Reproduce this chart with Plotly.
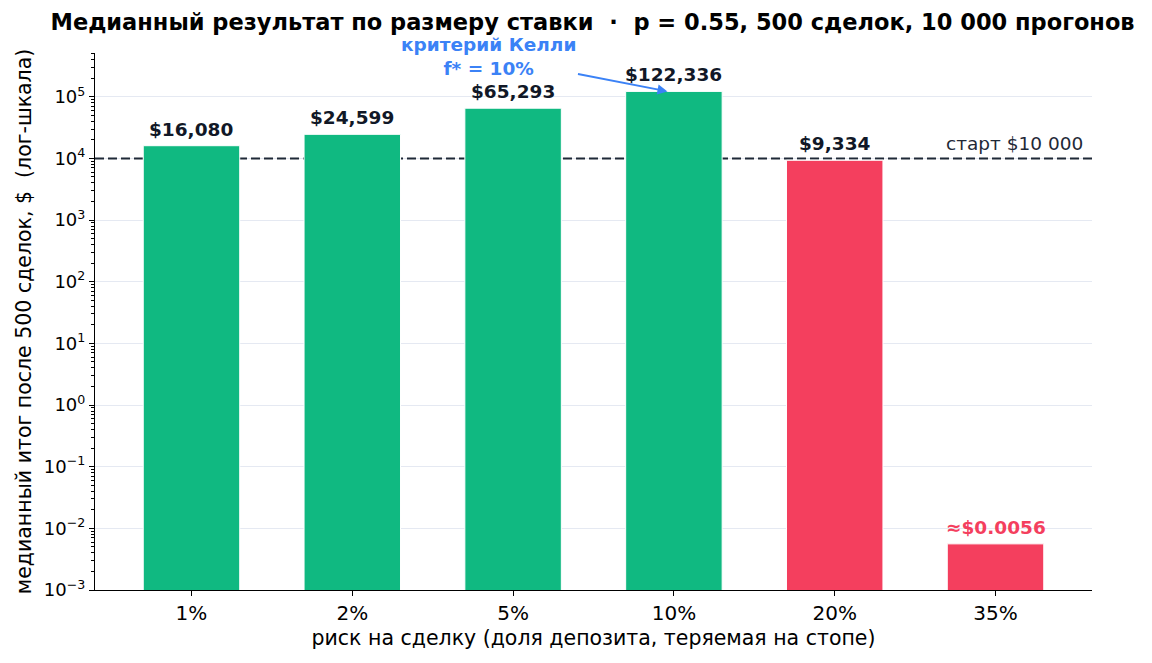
import math
import plotly.graph_objects as go

risk = ['1%', '2%', '5%', '10%', '20%', '35%']
median_final = [16080, 24599, 65293, 122336, 9334, 0.0056]
value_labels = ['$16,080', '$24,599', '$65,293', '$122,336', '$9,334', '≈$0.0056']
start_capital = 10000
kelly_idx = 3

decades = list(range(-3, 6))
decade_labels = ['10<sup>' + str(d).replace('-', '−') + '</sup>' for d in decades]

GREEN = '#10b981'
RED = '#f43f5e'
INK = '#111827'
BLUE = '#3b82f6'

colors = [GREEN if v >= start_capital else RED for v in median_final]

fig = go.Figure(go.Bar(
    x=risk,
    y=median_final,
    marker=dict(color=colors, line=dict(color='white', width=1)),
    width=0.6,
    hoverinfo='x+y',
))

# dashed start line: above the gridlines, behind the bars
fig.add_shape(type='line', xref='x', x0=-0.6, x1=5.6, yref='y', y0=start_capital, y1=start_capital,
              line=dict(color='#1f2937', width=2, dash='9px,4px'), layer='between')

annotations = []
for i, (v, lab) in enumerate(zip(median_final, value_labels)):
    annotations.append(dict(
        x=risk[i], y=math.log10(v), xref='x', yref='y',
        text=lab, showarrow=False, yanchor='bottom', yshift=4,
        font=dict(size=18.5, color=RED if v < 1 else INK, weight='bold'),
    ))

annotations.append(dict(
    x=0.993, xref='paper', y=math.log10(start_capital), yref='y',
    text='старт $10 000', showarrow=False, xanchor='right', yanchor='bottom', yshift=2,
    font=dict(size=18.5, color='#1f2937'),
))

annotations.append(dict(
    x=kelly_idx - 0.04, y=math.log10(median_final[kelly_idx]), xref='x', yref='y',
    ax=1.85, ay=5.65, axref='x', ayref='y',
    text='критерий Келли<br>f* = 10%', showarrow=True,
    arrowhead=2, arrowsize=1, arrowwidth=2, arrowcolor=BLUE, standoff=0,
    font=dict(size=18.5, color=BLUE, weight='bold'),
))

fig.update_layout(
    width=1144,
    height=655,
    margin=dict(l=87, r=60, t=45, b=73),
    plot_bgcolor='white',
    paper_bgcolor='white',
    font=dict(family='DejaVu Sans', size=17, color='black'),
    title=dict(
        text='Медианный результат по размеру ставки  ·  p = 0.55, 500 сделок, 10 000 прогонов',
        x=0.511, xanchor='center', y=0.978, yanchor='middle',
        font=dict(size=22.5, color='black', weight='bold'),
    ),
    showlegend=False,
    annotations=annotations,
)

fig.update_xaxes(
    range=[-0.6, 5.6],
    showline=True, linecolor='black', linewidth=1.2,
    ticks='outside', ticklen=5, tickcolor='black',
    tickfont=dict(size=20),
    title=dict(text='риск на сделку (доля депозита, теряемая на стопе)', font=dict(size=20.5), standoff=6),
    showgrid=False,
)

fig.update_yaxes(
    type='log',
    range=[-3, 5.71],
    tickvals=[10 ** d for d in decades],
    ticktext=decade_labels,
    showline=True, linecolor='black', linewidth=1.2,
    ticks='outside', ticklen=5, tickcolor='black',
    minor=dict(ticks='outside', ticklen=3, tickcolor='black', dtick='D1', showgrid=False),
    tickfont=dict(size=18),
    showgrid=True, gridcolor='#e5e9f2', gridwidth=1,
    zeroline=False,
    title=dict(text='медианный итог после 500 сделок, $  (лог-шкала)', font=dict(size=20.5), standoff=6),
)

fig.write_html('out.html')
